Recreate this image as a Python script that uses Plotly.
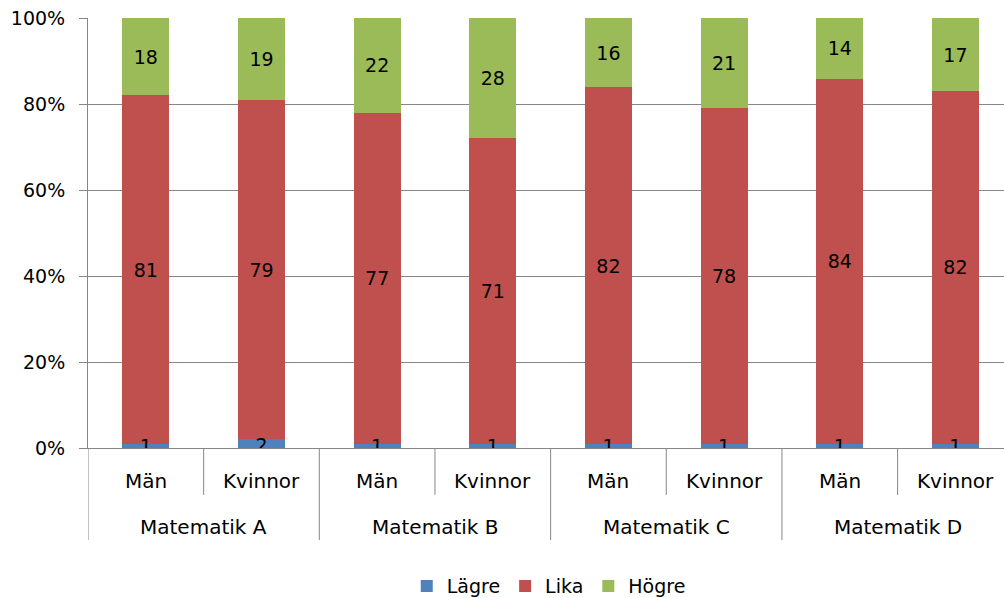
import plotly.graph_objects as go

group_names = ["Matematik A", "Matematik B", "Matematik C", "Matematik D"]
groups = ["Matematik A", "Matematik A", "Matematik B", "Matematik B",
          "Matematik C", "Matematik C", "Matematik D", "Matematik D"]
genders = ["Män", "Kvinnor", "Män", "Kvinnor", "Män", "Kvinnor", "Män", "Kvinnor"]
lagre = [1, 2, 1, 1, 1, 1, 1, 1]
lika = [81, 79, 77, 71, 82, 78, 84, 82]
hogre = [18, 19, 22, 28, 16, 21, 14, 17]
y_ticks = [0, 20, 40, 60, 80, 100]
y_ticktext = ["0%", "20%", "40%", "60%", "80%", "100%"]

totals = [a + b + c for a, b, c in zip(lagre, lika, hogre)]
def pct(vals):
    return [v / t * 100 for v, t in zip(vals, totals)]

cats = [f"{g}|{s}" for g, s in zip(groups, genders)]
FONT = "DejaVu Sans"
GRID = "#868686"
LBL = dict(color="black", size=19, family=FONT)

fig = go.Figure()
fig.add_bar(x=cats, y=pct(lagre), name="Lägre", marker_color="#4F81BD",
            marker_line_width=0, hoverinfo="skip")
fig.add_bar(x=cats, y=pct(lika), name="Lika", marker_color="#C0504D",
            marker_line_width=0,
            text=[str(v) for v in lika], textposition="inside",
            insidetextanchor="middle", textfont=LBL, hoverinfo="skip")
fig.add_bar(x=cats, y=pct(hogre), name="Högre", marker_color="#9BBB59",
            marker_line_width=0,
            text=[str(v) for v in hogre], textposition="inside",
            insidetextanchor="middle", textfont=LBL, hoverinfo="skip")
fig.add_scatter(x=cats, y=[p * 0.05 for p in pct(lagre)], mode="text",
                text=[str(v) for v in lagre], textposition="middle center",
                textfont=LBL, showlegend=False, hoverinfo="skip")

# x-axis category labels and dividers
for i, c in enumerate(cats):
    fig.add_annotation(x=c, xref="x", y=-0.077, yref="paper", yanchor="middle",
                       text=genders[i], showarrow=False,
                       font=dict(size=20, family=FONT, color="black"))
for j, g in enumerate(group_names):
    mid = 2 * j + 0.5
    fig.add_annotation(x=mid, xref="x", y=-0.184, yref="paper", yanchor="middle",
                       text=g, showarrow=False,
                       font=dict(size=20, family=FONT, color="black"))
    fig.add_shape(type="line", xref="x", yref="paper", x0=2 * j - 0.5, x1=2 * j - 0.5,
                  y0=0, y1=-0.214, line=dict(color=GRID, width=1))
    fig.add_shape(type="line", xref="x", yref="paper", x0=2 * j + 0.5, x1=2 * j + 0.5,
                  y0=0, y1=-0.109, line=dict(color=GRID, width=1))

fig.update_layout(
    barmode="stack",
    bargap=0.594,
    width=1004, height=598,
    margin=dict(l=88, r=0, t=18, b=150, autoexpand=False),
    plot_bgcolor="white", paper_bgcolor="white",
    font=dict(family=FONT, size=18, color="black"),
    uniformtext=dict(minsize=18, mode="show"),
    legend=dict(orientation="h", x=0.503, xanchor="center", y=-0.321, yanchor="middle",
                font=dict(size=19), traceorder="normal"),
    xaxis=dict(type="category", showline=True, linecolor=GRID,
               showticklabels=False, ticks="", automargin=False,
               range=[-0.5, 7.42]),
    yaxis=dict(range=[0, 100], tickvals=y_ticks, ticktext=y_ticktext,
               showgrid=True, gridcolor=GRID, gridwidth=1,
               showline=True, linecolor=GRID, ticks="outside", ticklen=8,
               tickcolor=GRID, tickfont=dict(size=19), zeroline=False,
               automargin=False, ticklabelstandoff=10),
)

fig.write_html("out.html", config={"displayModeBar": False},
               post_script="document.body.style.margin='0';document.body.style.overflow='hidden';")
